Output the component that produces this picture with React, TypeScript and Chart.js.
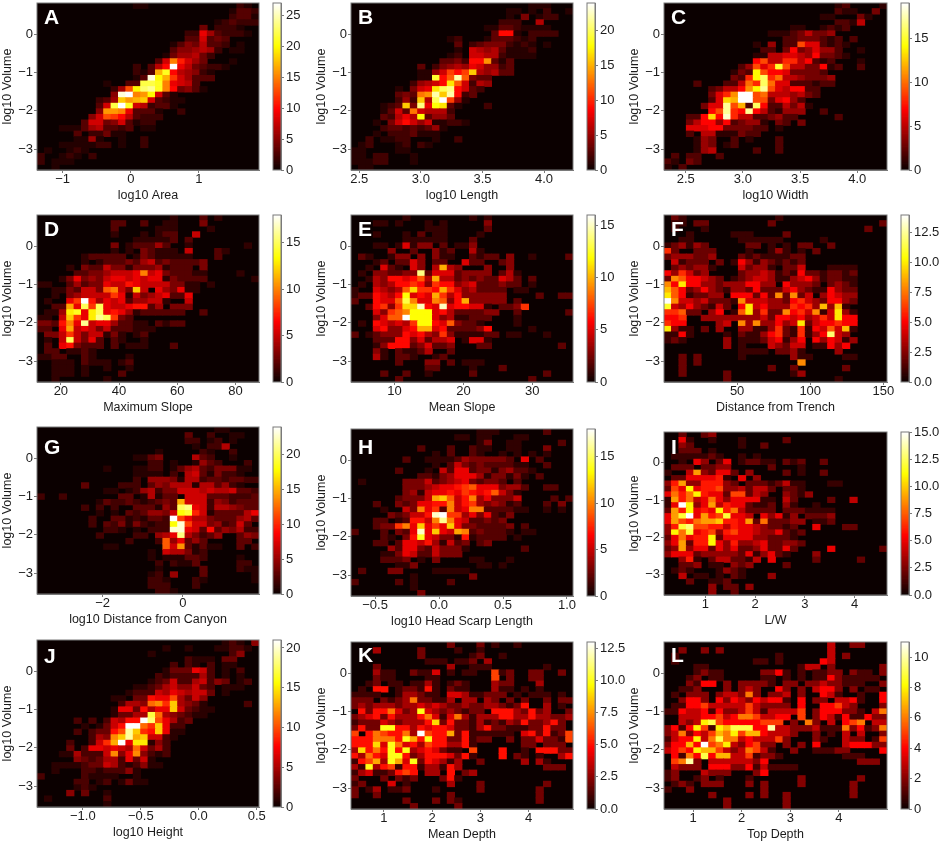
import React, { useEffect, useRef } from "react";
import { Chart, registerables } from "chart.js";

Chart.register(...registerables);

const FONT = '"Liberation Sans", Arial, sans-serif';
const TICK_SIZE = 13;
const TITLE_SIZE = 12.5;
const YMIN = -3.55;
const YMAX = 0.83;
const volumeTicks = [-3, -2, -1, 0];

// Counts per bin, base 36, top row first (log10 Volume high -> low).
const rowsA = [
"00000 00000 00011 00000 00000 00210","00000 00000 00000 00000 00000 01332","00000 00000 00000 00000 00000 02331",
"00000 00000 00000 00000 00001 23222","00000 00000 00000 00000 00402 22100","00000 00000 00000 00000 22963 22210",
"00000 00000 00000 00000 33834 30000","00000 00000 00000 00013 54733 20100","00000 00000 00000 00035 56762 01100",
"00000 00000 00000 00146 67420 00000","00000 00000 00000 038fb 86400 01000","00000 00000 00020 37ar9 74322 10000",
"00000 00000 00021 3hla7 65210 00000","00000 00000 00013 qkhc8 63330 00000","00000 00001 0033m mlf98 73000 00000",
"00000 00000 26dkn olfa4 53100 00000","00000 00000 5qrfg k8310 00000 00000","00000 00023 6ighi 83211 00000 00000",
"00000 00038 mrl87 23310","00000 0005g gf933 31002","00000 0058d ca732 22000","00000 03884 58312 20000",
"00011 13673 32301 10000","00000 30224 11000","00000 11610 01002","00011 11122 01002","01001 21000","20012 10200","20111","00100",
];
const rowsB = [
"00000 00000 00000 00000 00001 11000","00000 00000 00000 00000 01101 02001","00000 00000 00000 00000 01040 12200",
"00000 00000 00000 00000 22200 60000","00000 00000 00000 00011 33211 11000","00000 00000 00000 00003 99102 22200",
"00000 00000 00012 00013 33212 00000","00000 00000 00003 02344 42121 01000","00000 00000 00001 07656 31112",
"00000 00000 00012 07766 21111","00000 00000 00334 299e3 13000","00000 00003 02456 58755 23000","00000 00001 157b9 bg656 33000",
"00000 00001 1j9cm c4330","00000 00025 679hc 72650","00000 01047 8hkl9 73200","00000 0343d emgm9 23000","00000 0252g 6kob5 10000",
"00001 23g4l 8ih31 00020","00001 373d7 66620","00003 2686i 35530","00010 47975 71122 10000","00002 33232 35100","00010 22231 11000",
"00201 12200 01002","01200 01202 10000","11000 01100","11022 00010","11122 00010","01100",
];
const rowsC = [
"00000 00000 00000 00000 00012 00001","00000 00000 00000 00000 00021 10030","00000 00000 00000 00000 01100 03100",
"00000 00000 00000 00000 00022 15000","00000 00000 00000 00110 01212 00000","00000 00000 00001 11235 33400 00000",
"00000 00000 00000 02233 32120 20000","00000 00000 00104 02296 62121 00000","00000 00000 00022 03734 64420 01000",
"00000 00000 00115 56654 73321 00000","00000 00000 00795 58857 21200 01000","00000 00000 24968 f9553 37120 02000",
"00000 00001 32e97 76333 32000 00000","00000 00003 28eg8 a5543 33400 00000","00002 00022 5a8ga 66222 12200 00000",
"00000 02355 7beh9 65772 20000 00000","00000 0368b jj9a5 55453 20000 00000","00000 026dc jj993 67420 00000 00000",
"00000 366h9 c2g72 25351 00000 00000","00000 079h8 7h752 14440 02000 00000","00022 7d7i8 55223 42200 00020 00000",
"00035 77472 34410 32030 00000 00000","00066 67733 33220 10000 00000 00000","00020 55111 32200","00001 43002 01000 20000",
"00001 43012 00000 20000","00001 45000 00200 20000","02022 00200","21032","10200",
];
const rowsD = [
"00000 00000 00000 00010 00201","00000 00000 22002 00110 00300","00000 00000 20000 01110 00010","00000 00000 10001 01220 05000",
"00000 00000 00011 11120 20000","00000 00000 30122 24200 10000 00010","00000 00000 10103 21110 50002 10000",
"00000 01222 22013 21111 10002","00000 01012 22324 52322 22300","00001 03225 33133 34122 20300","00000 22334 5556a 56322 21100 00100",
"00013 63435 66565 66132 22200 00001","11002 42336 55765 55533 11010","00113 25539 a53c5 06436 11000","00103 45555 86153 45622 60000",
"01006 8i746 56244 55100 50000","0022b 6f8f6 55677 24033 30000","0114d e6df6 76412 22222 00200","11 05c 86dgf 83200 00000",
"3327a 6g566 42211 02122","2206b 56535 22211 10000","03358 53551 31012","0105f 53620 21001","02067 32220 20111 00020",
"02201 12100","11220 02100 00100","00111 02111 01200","00111 01001 00100","00111 01000 02000","00100 00001",
];
const rowsE = [
"00000 00100 00000 01010","00011 01000 10100 00030","00000 00000 11100 00020","00010 00102 01100 00100","00000 00111 11100 02000",
"00011 01513 30201 13000","00000 30020 03120 04100","02100 13303 03110 02122 03001 00002","00012 02253 02200 52200 23000",
"00105 21053 04a43 00030 03000","01033 2233e 25552 33330 24100","00143 66568 4a442 32322 54202","01043 46676 37663 45222 32201",
"10054 348b7 76a75 34222 20110","12265 46c56 5a746 33333 30000 20022","20065 58d95 59836 a3333 30200","00267 37bbf 65f56 65510 22370",
"00053 789cc c5642 22233 00200 00002","00035 88gcc c5341 12220 00100","01065 4547c c6583 22100 00100","00056 3356a a5622 22360 00001",
"20123 33656 43731 11122 01100 01000","00022 26635 24450 15510","00013 66623 52230 00220 00000 00020","00031 02112 40020","00041 02210 01200",
"00000 02000 33020 11100","00000 00000 22000 01000 20000","00002 00200 10000 02000 00000 02000","00000 02000 00000 00000 00002",
];
const rowsF = [
"02100 00000 00000 10000","01102 20000 00002 00000 00000 00002","01000 10000 00000 00000 00000 00200","00010 00001 11000 02000",
"00110 00000 11111 10000 01000","12313 20000 02201 01022 00200","62002 22000 01001 31010 20000","23332 23000 21211 11220",
"04122 20201 53132 12120","02323 31000 42331 02240 00111 10000","53642 30000 23343 12152 21221 20000","28755 43201 23443 11345 31221 10000",
"85a55 33233 35533 05333 20232 10000","97523 53213 32522 24532 11532 20000","a7512 23305 55252 82824 03543 30000","e8443 42221 84443 32564 32553 20000",
"b4353 21420 5a453 33656 39391","66722 03501 7a362 28564 814a3 10000","55600 33333 33342 55453 464a5 50000","65500 00340 83833 534a2 45565 50000",
"a3110 20300 33113 62161 54749 10000","11510 00010 21135 62161 35c43","12100 00030 11124 51350 53541 30000","00000 00030 10004 32440 11535",
"00000 00000 11110 22310 00030","00202 00000 10000 00311 00001 10000","00202 00000 00000 00080","00200 00000 00002 00200 00002","00200 00020 00000 00130","00000 00020 00000 00000 00010",
];
const rowsG = [
"00000 00000 00000 00000 00001 10000","00000 00000 00000 00000 30020 01100","00000 00000 00000 00000 22012 01000","00000 00000 00000 00000 01022 60000",
"00000 00000 00000 01000 00210 02000","00000 00000 00011 34000 06320 01000","00000 00000 00000 22010 01532 00020","00000 00001 00011 22013 56324 44110",
"00000 00000 00011 11020 67314 22100","00000 00000 00020 55541 66233 23322","00000 03000 02220 35466 61663 52100","00000 00001 10125 62447 77676 67332",
"20020 00000 03301 61330 77733 32223","00000 00013 22321 2343f 77725 42333","00000 02020 20033 3153k l8726 65433","00000 00010 10323 5547i ja713 33368",
"00000 00200 33121 332ob 86643 33563","00000 00203 24142 122in b7745 23730","00000 00002 21010 222nn 87393 54622","00000 00020 00022 0568l 64235 00354",
"00000 00000 00200 02c58 35300 00330","00000 00001 10000 00c7e 31311 00302","00000 00000 00000 10766 41200","00000 00000 00000 10111 33200 00100",
"00000 00000 00000 02021 13000 00220","00000 00000 00000 01000 00300 00211","00000 00000 00000 12050 00300 00001","00000 00000 00000 22100 02100 00001",
"00000 00000 00000 22200 02000","00000 00000 00000 02210",
];
const rowsH = [
"00000 00000 00000 00111 00000 02000","00000 00000 00001 10110 00110","00000 00000 00000 00130 01100 00020","00000 00002 00020 02110 01100 03000",
"00000 00000 01020 02100 10101 01000","00000 00200 11112 43333 32060 20000","00000 00000 01025 32322 22110 02000","00000 02000 10526 62331 34221",
"00000 00002 21346 66413 31310 20000","01000 00333 52345 63233 20200","00000 00333 45667 89666 34420 02200","00000 00341 56676 87679 53100",
"00000 02333 5bc95 7a463 33500 00202","00020 03236 677a5 78434 31200 02030","00001 0053a 682a5 6aa22 22110 01010","00000 32355 7hi88 46362 13000",
"00022 01277 5aga6 52232 30000","00023 38a6c 686c6 33222 23020","20002 0326h 6c65b a2322 21011","00002 1037e 65331 71222 20100",
"00022 02665 74152 30230","00000 42663 25333 10000 00020","00001 13652 25333","00002 22301 03000 01100 01000","00000 01130 00000 00110 10000",
"02000 33000 01111 10000","00000 00010 00000 03000","20000 02010 00020","00000 00010","00000 00003",
];
const rowsI = [
"00200 23000","00510 01000 10000 02000","00320 00000 10020","00222 01000","01111 12100 10100","00105 30250 12211 02120 02000",
"02220 22330 00002 00010","10049 32552 03000 02010 02000","02255 55610 50300","36933 66632 02221 24110 00110","275b5 66733 42442 02210",
"5868b 65527 72430 03213","19684 58535 55511 04200 00200 40000","15fb3 59465 52112 03100 10000","296b5 65b68 42222 02221 11100",
"59cf5 967c5 54053 51302 22300","59768 99a66 59282 22330 11200","36cd7 76646 55432 21200 50002 20000","3b8c5 67367 55433 52120",
"25856 6b255 55332 22100","35926 6b536 33452 23320","23935 52535 22352 25200 00500 00002","35552 33333 25135 21000 30000",
"00361 02442 21405 00000 20000 02000","00223 01103 23000 02000","01210 00132 10000","00401 10102 10003","00020 01120","00000 03022 03000","00000 03002",
];
const rowsJ = [
"00000 00000 00000 00000 00000 12104","00000 00000 00000 00100 10001 12210","00000 00000 00000 10000 00000 02400","00000 00000 00000 00000 21110 33000",
"00000 00000 00000 00020 21020 11000","00000 00000 00000 00133 37620 10200","00000 00000 00000 02122 22520 10100","00000 00000 00000 12362 25624 30120",
"00000 00000 00011 23564 46320 11100","00000 00000 00122 26576 56630 10000","00000 00000 11033 877a5 36400","00000 00000 02554 bc9e5 43100 00020",
"00000 00000 17738 577e6 32110","00000 00000 13355 hb543 21100","00000 20202 6588l ia752 30000","00000 01013 68llb 9e722","00000 20233 8aje9 8e711",
"00000 00254 cejde 66210","00002 00269 dl7ff 14200","00003 02776 765b6 35200","00011 52226 c47c4 21200","00000 43235 52736 10000","00111 12336 52124 11000",
"00100 02212 22410","20000 02111 10010","00000 22012 01311","00000 12100","00004 03001","01000 00002","00000 00001",
];
const rowsK = [
"00000 00000 00020 00201 00100","00030 00002 00001 00100","00000 00002 00000 01200 10000","00000 00000 11101 12030",
"00020 00000 00030 01110 00000 01000","00031 10021 14010 11006 12002 20020","00021 10000 11000 00006 02002 20000","00120 11011 31012 10003 22000 30000",
"01055 01221 51021 10003 11010 10000","11110 01332 11044 31122 20101 11010","22202 12372 21130 33032 02020 02022","23233 32334 34322 32233 21250 03010",
"05255 7423a 43232 12205 55325 23002","23452 53335 74147 31333 55335 33223","12224 32333 59252 21312 13252 23520","25 22a a5535 45542 21352 21112 25220",
"60576 5573d 65582 51111 11045 25126","55577 75a85 a5522 51220 02022 42216","55594 a7453 65533 51000 00022 02220","39575 a5a34 54211 06000 50010 55522",
"53754 aa523 55542 51000 50210 10035","15683 a84a2 54313 00200 00030 31000","31a35 61551 33153 00000 00000 02220","13411 25650 33050 23000","20002 02120 00251",
"12000 40100 00030 00200 00000 02000","20130 11200 01000 00200 00000 20000","20020 00000 00020 00000 00000 20000","00000 00200 02021 00000 00000 20000","00000 00020 00002",
];
const rowsL = [
"00000 00000 00000 00000 00300 22000","00200 20200 00000 00000 00300","01000 00000 00000 10000 00302","01000 00000 00110 10000 04300","00001 10000 00000 00013 30200 00002",
"00001 21100 00022 41010 11220 21102","00012 01100 00011 01010 11421 11110","00021 44020 22221 02202 23221 11002","00112 00020 23200 42020 34420 20110",
"01022 20233 26202 23020 04310 01004","00244 20424 32434 41040 22033 41004","01144 53333 35322 22040 04453 20002","11433 41422 35313 33350 24442 21036",
"00333 44534 66533 44050 24314 11422","00323 89544 44455 50206 20304 56033","24148 51879 9944a 33222 31116 24126","23624 35768 57743 33200 20103 03002",
"13448 36966 34333 52000 21003 22015","24474 b5683 24522 02020 40003 44422","34548 77532 36531 00200 11122 00004","04164 94773 35122 10000 00001 11000",
"056a2 03333 33240 00000 00000 02220","03222 04442 24131 11100","12000 32220 00240","12001 20100 01000 00020 00000 02000","01210 22200 02020 00020 00000 20000",
"10020 00000 00020 00000 00000 20000","00000 02000 02020 02000 00000 20000","00000 00020 00000 02000","00000 00020 00000 02000",
];

const xTicksA = [-1, 0, 1];
const xTicksB = [2.5, 3, 3.5, 4];
const xTicksC = [2.5, 3, 3.5, 4];
const xTicksD = [20, 40, 60, 80];
const xTicksE = [10, 20, 30];
const xTicksF = [50, 100, 150];
const xTicksG = [-2, 0];
const xTicksH = [-0.5, 0, 0.5, 1];
const xTicksI = [1, 2, 3, 4];
const xTicksJ = [-1, -0.5, 0, 0.5];
const xTicksK = [1, 2, 3, 4];
const xTicksL = [1, 2, 3, 4];

const cbTicksA = [0, 5, 10, 15, 20, 25];
const cbTicksB = [0, 5, 10, 15, 20];
const cbTicksC = [0, 5, 10, 15];
const cbTicksD = [0, 5, 10, 15];
const cbTicksE = [0, 5, 10, 15];
const cbTicksF = [0, 2.5, 5, 7.5, 10, 12.5];
const cbTicksG = [0, 5, 10, 15, 20];
const cbTicksH = [0, 5, 10, 15];
const cbTicksI = [0, 2.5, 5, 7.5, 10, 12.5, 15];
const cbTicksJ = [0, 5, 10, 15, 20];
const cbTicksK = [0, 2.5, 5, 7.5, 10, 12.5];
const cbTicksL = [0, 2, 4, 6, 8, 10];

type P = {
  letter: string; letterY: number; xLabel: string; rows: string[];
  xMin: number; xMax: number; xTicks: number[]; cMax: number; cTicks: number[];
  left: number; top: number; w: number; h: number; cbLeft: number;
};

const panels: P[] = [
  { letter: "A", letterY: 15.5, xLabel: "log10 Area", rows: rowsA, xMin: -1.375, xMax: 1.88, xTicks: xTicksA, cMax: 27, cTicks: cbTicksA, left: 37, top: 3, w: 222, h: 167, cbLeft: 273 },
  { letter: "B", letterY: 15, xLabel: "log10 Length", rows: rowsB, xMin: 2.433, xMax: 4.235, xTicks: xTicksB, cMax: 24, cTicks: cbTicksB, left: 351, top: 3, w: 222, h: 167, cbLeft: 587 },
  { letter: "C", letterY: 15, xLabel: "log10 Width", rows: rowsC, xMin: 2.31, xMax: 4.26, xTicks: xTicksC, cMax: 19, cTicks: cbTicksC, left: 664, top: 3, w: 223, h: 167, cbLeft: 901 },
  { letter: "D", letterY: 15, xLabel: "Maximum Slope", rows: rowsD, xMin: 11.8, xMax: 88.1, xTicks: xTicksD, cMax: 18, cTicks: cbTicksD, left: 37, top: 215, w: 222, h: 167, cbLeft: 273 },
  { letter: "E", letterY: 15, xLabel: "Mean Slope", rows: rowsE, xMin: 3.7, xMax: 35.9, xTicks: xTicksE, cMax: 16, cTicks: cbTicksE, left: 351, top: 215, w: 222, h: 167, cbLeft: 587 },
  { letter: "F", letterY: 15, xLabel: "Distance from Trench", rows: rowsF, xMin: 0, xMax: 152.5, xTicks: xTicksF, cMax: 14, cTicks: cbTicksF, left: 664, top: 215, w: 223, h: 167, cbLeft: 901 },
  { letter: "G", letterY: 21, xLabel: "log10 Distance from Canyon", rows: rowsG, xMin: -3.63, xMax: 1.89, xTicks: xTicksG, cMax: 24, cTicks: cbTicksG, left: 37, top: 427, w: 222, h: 167, cbLeft: 273 },
  { letter: "H", letterY: 19, xLabel: "log10 Head Scarp Length", rows: rowsH, xMin: -0.688, xMax: 1.047, xTicks: xTicksH, cMax: 18, cTicks: cbTicksH, left: 351, top: 429, w: 222, h: 167, cbLeft: 587 },
  { letter: "I", letterY: 16, xLabel: "L/W", rows: rowsI, xMin: 0.168, xMax: 4.65, xTicks: xTicksI, cMax: 15, cTicks: cbTicksI, left: 664, top: 432, w: 223, h: 163, cbLeft: 901 },
  { letter: "J", letterY: 17, xLabel: "log10 Height", rows: rowsJ, xMin: -1.395, xMax: 0.519, xTicks: xTicksJ, cMax: 21, cTicks: cbTicksJ, left: 37, top: 640, w: 222, h: 167, cbLeft: 273 },
  { letter: "K", letterY: 14, xLabel: "Mean Depth", rows: rowsK, xMin: 0.317, xMax: 4.92, xTicks: xTicksK, cMax: 13, cTicks: cbTicksK, left: 351, top: 642, w: 222, h: 167, cbLeft: 587 },
  { letter: "L", letterY: 14, xLabel: "Top Depth", rows: rowsL, xMin: 0.4, xMax: 4.99, xTicks: xTicksL, cMax: 11, cTicks: cbTicksL, left: 664, top: 642, w: 223, h: 167, cbLeft: 901 },
];

const AXIS = "#7a7a7a";
const TEXT = "#1c1c1c";
const BINS = 30;
const RIGHT_PAD = 14;
const CB_PAD = 8;
const fmt = (v: number, ticks: number[]) => {
  const s = ticks.some((t) => !Number.isInteger(t)) ? v.toFixed(1) : String(v);
  return s.replace("-", "\u2212");
};
const clamp = (v: number) => Math.max(0, Math.min(1, v));
function hot(t: number) {
  const r = clamp(0.0416 + (t / 0.365) * 0.9584);
  const g = clamp((t - 0.365) / 0.381);
  const b = clamp((t - 0.746) / 0.254);
  return `rgb(${Math.round(r * 255)},${Math.round(g * 255)},${Math.round(b * 255)})`;
}

const noPad = (s: any) => {
  s.paddingLeft = 0; s.paddingRight = 0; s.paddingTop = 0; s.paddingBottom = 0;
};

const frame = (background: string | null, letter?: string, letterY?: number) => ({
  id: "frame",
  beforeDatasetsDraw(c: any) {
    if (!background) return;
    const a = c.chartArea;
    c.ctx.fillStyle = background;
    c.ctx.fillRect(a.left, a.top, a.right - a.left, a.bottom - a.top);
  },
  afterDraw(c: any) {
    const a = c.chartArea;
    const ctx = c.ctx;
    ctx.save();
    ctx.strokeStyle = AXIS;
    ctx.lineWidth = 1;
    ctx.strokeRect(a.left, a.top, a.right - a.left, a.bottom - a.top);
    if (letter) {
      ctx.fillStyle = "#fff";
      ctx.font = `bold 21px ${FONT}`;
      ctx.textAlign = "left";
      ctx.textBaseline = "middle";
      ctx.fillText(letter, a.left + 7, a.top + (letterY as number));
    }
    ctx.restore();
  },
});

function Heat({ p }: { p: P }) {
  const ref = useRef<HTMLCanvasElement>(null);
  useEffect(() => {
    const dx = (p.xMax - p.xMin) / BINS;
    const dy = (YMAX - YMIN) / BINS;
    const points: any[] = [];
    const colors: string[] = [];
    p.rows.forEach((raw, r) => {
      const row = raw.replace(/\s/g, "").padEnd(BINS, "0").slice(0, BINS);
      for (let c = 0; c < BINS; c++) {
        const n = parseInt(row[c], 36);
        if (!n) continue;
        points.push({ x: p.xMin + (c + 0.5) * dx, y: [YMAX - (r + 1) * dy, YMAX - r * dy] });
        colors.push(hot(n / p.cMax));
      }
    });
    const chart = new Chart(ref.current as any, {
      type: "bar",
      data: {
        datasets: [{
          data: points, backgroundColor: colors, borderWidth: 0, inflateAmount: 0.4,
          barThickness: p.w / BINS, categoryPercentage: 1, barPercentage: 1,
        } as any],
      },
      options: {
        responsive: false, animation: false, devicePixelRatio: 1,
        layout: { padding: { top: 2, right: RIGHT_PAD, left: 0, bottom: 0 } },
        plugins: { legend: { display: false }, tooltip: { enabled: false } },
        scales: {
          x: {
            type: "linear", min: p.xMin, max: p.xMax, offset: false,
            afterBuildTicks: (s: any) => { s.ticks = p.xTicks.map((value) => ({ value })); },
            afterFit: (s: any) => { s.height = 33; noPad(s); },
            grid: { drawOnChartArea: false, drawTicks: true, tickLength: 3, color: AXIS, offset: false },
            border: { color: AXIS },
            ticks: {
              autoSkip: false, maxRotation: 0, color: TEXT, padding: -1,
              font: { family: FONT, size: TICK_SIZE }, callback: (v: any) => fmt(Number(v), p.xTicks),
            },
            title: { display: true, text: p.xLabel, color: TEXT, font: { family: FONT, size: TITLE_SIZE }, padding: 0 },
          },
          y: {
            type: "linear", min: YMIN, max: YMAX,
            afterBuildTicks: (s: any) => { s.ticks = volumeTicks.map((value) => ({ value })); },
            afterFit: (s: any) => { s.width = 37; noPad(s); },
            grid: { drawOnChartArea: false, drawTicks: true, tickLength: 3, color: AXIS },
            border: { color: AXIS },
            ticks: {
              autoSkip: false, color: TEXT, padding: 1,
              font: { family: FONT, size: TICK_SIZE }, callback: (v: any) => fmt(Number(v), volumeTicks),
            },
            title: { display: true, text: "log10 Volume", color: TEXT, font: { family: FONT, size: TITLE_SIZE }, padding: 0 },
          },
        },
      } as any,
      plugins: [frame("#0b0000", p.letter, p.letterY)] as any,
    });
    return () => chart.destroy();
  }, [p]);
  return (
    <canvas
      ref={ref}
      width={37 + p.w + RIGHT_PAD}
      height={2 + p.h + 33}
      style={{ position: "absolute", left: p.left - 37, top: p.top - 2, filter: "blur(0.35px)" }}
    />
  );
}

function ColorBar({ p }: { p: P }) {
  const ref = useRef<HTMLCanvasElement>(null);
  useEffect(() => {
    const STEPS = 128;
    const step = p.cMax / STEPS;
    const levels = Array.from({ length: STEPS }, (_, i) => i * step);
    const chart = new Chart(ref.current as any, {
      type: "bar",
      data: {
        datasets: [{
          data: levels.map((v) => ({ x: 0.5, y: [v, v + step] })),
          backgroundColor: levels.map((v) => hot((v + step / 2) / p.cMax)),
          borderWidth: 0, inflateAmount: 0.4, barThickness: 8, categoryPercentage: 1, barPercentage: 1,
        } as any],
      },
      options: {
        responsive: false, animation: false, devicePixelRatio: 1,
        layout: { padding: { top: CB_PAD, bottom: CB_PAD, left: 1, right: 0 } },
        plugins: { legend: { display: false }, tooltip: { enabled: false } },
        scales: {
          x: { type: "linear", min: 0, max: 1, offset: false, display: false },
          y: {
            type: "linear", position: "right", min: 0, max: p.cMax,
            afterBuildTicks: (s: any) => { s.ticks = p.cTicks.map((value) => ({ value })); },
            afterFit: (s: any) => { s.width = 31; noPad(s); },
            grid: { drawOnChartArea: false, drawTicks: true, tickLength: 3, color: AXIS },
            border: { color: AXIS },
            ticks: {
              autoSkip: false, color: TEXT, padding: 2, align: "center",
              font: { family: FONT, size: TICK_SIZE }, callback: (v: any) => fmt(Number(v), p.cTicks),
            },
          },
        },
      } as any,
      plugins: [frame(null)] as any,
    });
    return () => chart.destroy();
  }, [p]);
  return (
    <canvas
      ref={ref}
      width={1 + 8 + 31}
      height={p.h + 2 * CB_PAD}
      style={{ position: "absolute", left: p.cbLeft - 1, top: p.top - CB_PAD, filter: "blur(0.35px)" }}
    />
  );
}

export default function App() {
  return (
    <div style={{ position: "absolute", left: 0, top: 0, width: 941, height: 843, background: "#fff", overflow: "hidden" }}>
      {panels.map((p) => (
        <React.Fragment key={p.letter}>
          <Heat p={p} />
          <ColorBar p={p} />
        </React.Fragment>
      ))}
    </div>
  );
}
